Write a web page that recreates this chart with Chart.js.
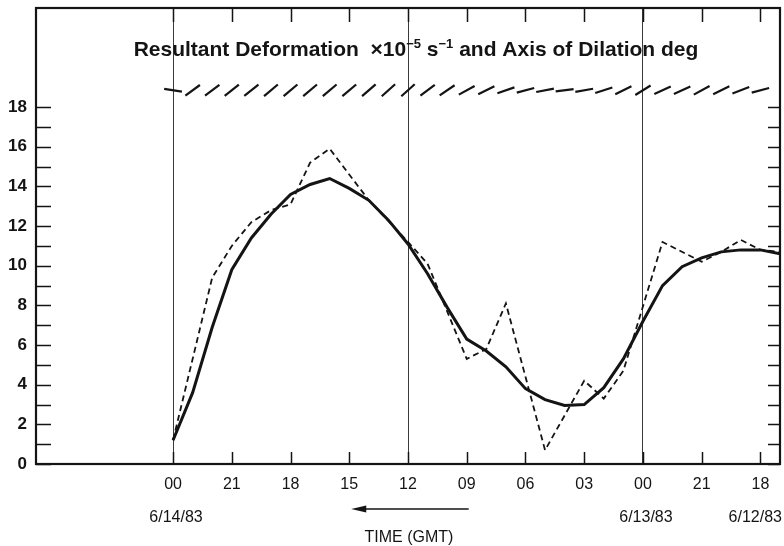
<!DOCTYPE html>
<html><head><meta charset="utf-8">
<script src="https://cdn.jsdelivr.net/npm/chart.js@4/dist/chart.umd.min.js"></script>
<style>html,body{margin:0;padding:0;background:#fff}#wrap{width:784px;height:546px}</style>
</head><body><div id="wrap"><canvas id="c" width="784" height="546"></canvas></div>
<script>
// x values are hours before 6/14/83 00 GMT (time runs right-to-left)
const solidHours  = [0,1,2,3,4,5,6,7,8,9,10,11,12,13,14,15,16,17,18,19,20,21,22,23,24,25,26,27,28,29,30,31];
const solidValues = [1.2,3.6,6.9,9.8,11.4,12.6,13.6,14.1,14.4,13.9,13.3,12.3,11.1,9.6,7.9,6.3,5.7,4.9,3.8,3.25,2.95,3.0,3.85,5.3,7.2,9.0,9.95,10.4,10.7,10.8,10.8,10.6];
const dashedHours  = [0,2,3,4,5,6,7,8,10,12,13,15,16,17,19,21,22,23,25,27,28,29,30,31];
const dashedValues = [1.2,9.4,11.0,12.2,12.8,13.1,15.2,15.9,13.3,11.2,10.1,5.3,5.8,8.1,0.7,4.2,3.3,4.7,11.2,10.2,10.7,11.3,10.8,10.7];
const dilationHours  = [0,1,2,3,4,5,6,7,8,9,10,11,12,13,14,15,16,17,18,19,20,21,22,23,24,25,26,27,28,29,30];
const dilationAngles = [-9,36,37,38,38,40,40,40,40,40,41,42,42,37,34,29,26,19,15,11,7,10,18,26,32,24,24,29,26,21,15];
const xTickHours  = [0,3,6,9,12,15,18,21,24,27,30];
const xTickLabels = ['00','21','18','15','12','09','06','03','00','21','18'];
const yTickValues = [0,2,4,6,8,10,12,14,16,18];
const yMinorValues = [0,1,2,3,4,5,6,7,8,9,10,11,12,13,14,15,16,17,18];
const dayLineHours = [0,12,24];
const dateHours  = [0,24,30];
const dateLabels = ['6/14/83','6/13/83','6/12/83'];
const titleParts = [['Resultant Deformation  \u00d710',false],['\u22125',true],[' s',false],['\u22121',true],[' and Axis of Dilation deg',false]];
const axisTitle = 'TIME (GMT)';

const DILATION_ROW = 18.85;
const TITLE_ROW = 20.85;
const INK = '#141414';
const FONT = '"Liberation Sans", Arial, sans-serif';

const pts = (xs, ys) => xs.map((x, i) => ({x, y: ys[i]}));

const decor = {
  id: 'decor',
  afterDraw(chart) {
    const ctx = chart.ctx, a = chart.chartArea;
    const xs = chart.scales.x, ys = chart.scales.y;
    ctx.save();
    ctx.strokeStyle = INK;
    // inward ticks
    ctx.lineWidth = 1.5;
    ctx.beginPath();
    yMinorValues.forEach(v => {
      const py = Math.round(ys.getPixelForValue(v)) + 0.5;
      ctx.moveTo(a.left, py); ctx.lineTo(a.left + 15, py);
      ctx.moveTo(a.right, py); ctx.lineTo(a.right - 12, py);
    });
    xTickHours.forEach(h => {
      const px = Math.round(xs.getPixelForValue(h)) + 0.5;
      ctx.moveTo(px, a.bottom); ctx.lineTo(px, a.bottom - 12);
      ctx.moveTo(px, a.top); ctx.lineTo(px, a.top + 14);
    });
    ctx.stroke();
    // frame
    ctx.lineWidth = 2.2;
    ctx.strokeRect(a.left, a.top, a.right - a.left, a.bottom - a.top);
    // title
    ctx.fillStyle = INK;
    ctx.textBaseline = 'alphabetic';
    ctx.textAlign = 'left';
    const mainF = 'bold 21px ' + FONT, supF = 'bold 13px ' + FONT;
    let total = 0;
    titleParts.forEach(([t, s]) => { ctx.font = s ? supF : mainF; total += ctx.measureText(t).width; });
    let tx = (a.left + a.right) / 2 + 8 - total / 2;
    const ty = ys.getPixelForValue(TITLE_ROW) + 5;
    titleParts.forEach(([t, s]) => {
      ctx.font = s ? supF : mainF;
      ctx.fillText(t, tx, s ? ty - 8 : ty);
      tx += ctx.measureText(t).width;
    });
    // date labels
    ctx.font = '16px ' + FONT;
    ctx.textAlign = 'center';
    dateLabels.forEach((lab, i) => {
      let px = xs.getPixelForValue(dateHours[i]) + 3;
      const w = ctx.measureText(lab).width;
      if (px + w / 2 > chart.width - 2) px = chart.width - 2 - w / 2;
      ctx.fillText(lab, px, a.bottom + 58);
    });
    // axis title and arrow (arrow points toward later time = left)
    ctx.font = '16px ' + FONT;
    const cx = xs.getPixelForValue(12) + 1;
    ctx.fillText(axisTitle, cx, a.bottom + 78);
    const ay = a.bottom + 45;
    const xl = xs.getPixelForValue(9.1), xr = xs.getPixelForValue(15.1);
    ctx.lineWidth = 1.6;
    ctx.beginPath(); ctx.moveTo(xl + 10, ay); ctx.lineTo(xr, ay); ctx.stroke();
    ctx.beginPath(); ctx.moveTo(xl, ay); ctx.lineTo(xl + 15, ay - 3.5); ctx.lineTo(xl + 15, ay + 3.5); ctx.closePath(); ctx.fill();
    ctx.restore();
  }
};

new Chart(document.getElementById('c'), {
  type: 'line',
  data: {
    datasets: [
      { data: pts(solidHours, solidValues), borderColor: INK, borderWidth: 3, pointRadius: 0, tension: 0, fill: false },
      { data: pts(dashedHours, dashedValues), borderColor: INK, borderWidth: 1.8, borderDash: [6, 4], pointRadius: 0, tension: 0, fill: false },
      { data: dilationHours.map(h => ({x: h, y: DILATION_ROW})), showLine: false, pointStyle: 'line',
        pointRadius: 9, pointBorderWidth: 2.2, pointBorderColor: INK, borderColor: INK,
        pointRotation: dilationAngles.map(d => -d) }
    ]
  },
  options: {
    responsive: false, animation: false, devicePixelRatio: 1,
    layout: { autoPadding: false, padding: { top: 8, right: 4, left: 0, bottom: 0 } },
    plugins: { legend: { display: false }, tooltip: { enabled: false }, title: { display: false } },
    scales: {
      x: {
        type: 'linear', min: -7, max: 31,
        afterFit: s => { s.height = 82; s.paddingLeft = 0; s.paddingRight = 0; },
        afterBuildTicks: s => { s.ticks = xTickHours.map(v => ({value: v})); },
        ticks: { autoSkip: false, maxRotation: 0, padding: 11, color: INK,
          font: { family: FONT, size: 16 },
          callback: v => xTickLabels[xTickHours.indexOf(v)] },
        grid: { drawTicks: false, lineWidth: 1,
          color: c => (c.tick && dayLineHours.includes(c.tick.value)) ? '#3a3a3a' : 'rgba(0,0,0,0)' },
        border: { display: false }
      },
      y: {
        type: 'linear', min: 0, max: 23,
        afterFit: s => { s.width = 36; s.paddingTop = 0; s.paddingBottom = 0; },
        afterBuildTicks: s => { s.ticks = yTickValues.map(v => ({value: v})); },
        ticks: { padding: 9, color: INK, font: { family: FONT, size: 17, weight: 'bold' } },
        grid: { display: false, drawTicks: false },
        border: { display: false }
      }
    }
  },
  plugins: [decor]
});
</script>
</body></html>
